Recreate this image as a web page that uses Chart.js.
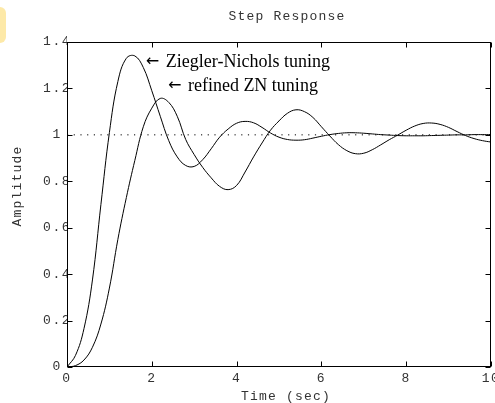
<!DOCTYPE html>
<html>
<head>
<meta charset="utf-8">
<script src="https://cdn.jsdelivr.net/npm/chart.js@4/dist/chart.umd.min.js"></script>
<style>
  body { margin: 0; background: #fff; }
  #wrap { position: relative; width: 495px; height: 403px; }
  #tab { position: absolute; left: 0; top: 7px; width: 6px; height: 36px; background: #fde9a8; border-radius: 0 6px 6px 0; }
</style>
</head>
<body>
<div id="wrap">
  <canvas id="myChart" width="495" height="403"></canvas>
  <div id="tab"></div>
</div>
<script>
// time axis (sec)
const times = [0, 0.2, 0.4, 0.6, 0.8, 1, 1.2, 1.4, 1.6, 1.8,
  2, 2.2, 2.4, 2.6, 2.8, 3, 3.2, 3.4, 3.6, 3.8,
  4, 4.2, 4.4, 4.6, 4.8, 5, 5.2, 5.4, 5.6, 5.8,
  6, 6.2, 6.4, 6.6, 6.8, 7, 7.2, 7.4, 7.6, 7.8,
  8, 8.2, 8.4, 8.6, 8.8, 9, 9.2, 9.4, 9.6, 9.8, 10];

// Ziegler-Nichols tuning
const znValues = [0, 0.05, 0.165, 0.375, 0.70, 1.01, 1.23, 1.33, 1.34, 1.29,
  1.19, 1.08, 0.975, 0.905, 0.868, 0.864, 0.893, 0.94, 0.99, 1.025,
  1.05, 1.058, 1.052, 1.032, 1.008, 0.99, 0.98, 0.977, 0.979, 0.986,
  0.994, 1.001, 1.006, 1.009, 1.009, 1.007, 1.004, 1.001, 0.999, 0.997,
  0.996, 0.996, 0.996, 0.997, 0.998, 0.999, 1.0, 1.0, 1.001, 1.001, 1.001];

// refined ZN tuning
const refinedValues = [0, 0.006, 0.03, 0.085, 0.185, 0.34, 0.55, 0.73, 0.89, 1.035,
  1.115, 1.157, 1.14, 1.08, 0.98, 0.915, 0.86, 0.815, 0.778, 0.764,
  0.782, 0.84, 0.905, 0.965, 1.02, 1.06, 1.093, 1.108, 1.10, 1.075,
  1.035, 0.995, 0.958, 0.932, 0.919, 0.921, 0.936, 0.957, 0.979, 0.999,
  1.02, 1.038, 1.049, 1.051, 1.045, 1.032, 1.014, 0.997, 0.984, 0.975, 0.969];

// reference level
const refTimes = [0, 10];
const refValues = [1, 1];

const xTicks = [0, 2, 4, 6, 8, 10];
const yTicks = [0, 0.2, 0.4, 0.6, 0.8, 1, 1.2, 1.4];

const toPoints = (xs, ys) => xs.map((t, i) => ({ x: t, y: ys[i] }));

const mono = '"Liberation Mono", "DejaVu Sans Mono", monospace';
const serif = '"Liberation Serif", "Times New Roman", serif';

// box, inside ticks and texts (MATLAB look)
const boxPlugin = {
  id: 'box',
  beforeDraw(chart) {
    chart.ctx.letterSpacing = '1.5px';
  },
  afterDraw(chart) {
    const { ctx, chartArea: a, scales: { x, y } } = chart;
    ctx.save();
    ctx.letterSpacing = '0px';
    ctx.strokeStyle = '#000';
    ctx.lineWidth = 1;
    const l = Math.round(a.left) + 0.5, r = Math.round(a.right) - 0.5;
    const t = Math.round(a.top) + 0.5, b = Math.round(a.bottom) - 0.5;
    ctx.strokeRect(l, t, r - l, b - t);

    ctx.beginPath();
    xTicks.forEach(v => {
      const px = Math.round(x.getPixelForValue(v)) + 0.5;
      ctx.moveTo(px, b); ctx.lineTo(px, b - 5);
      ctx.moveTo(px, t); ctx.lineTo(px, t + 5);
    });
    yTicks.forEach(v => {
      const py = Math.round(y.getPixelForValue(v)) + 0.5;
      ctx.moveTo(l, py); ctx.lineTo(l + 5, py);
      ctx.moveTo(r, py); ctx.lineTo(r - 5, py);
    });
    ctx.stroke();

    // title and axis titles
    ctx.letterSpacing = '1.2px';
    ctx.fillStyle = '#333';
    ctx.font = '13px ' + mono;
    ctx.textAlign = 'center';
    ctx.textBaseline = 'middle';
    ctx.fillText('Step Response', 287, 17);
    ctx.fillText('Time (sec)', 286, 397);
    ctx.save();
    ctx.translate(18, 186);
    ctx.rotate(-Math.PI / 2);
    ctx.fillText('Amplitude', 0, 0);
    ctx.restore();

    // curve annotations: arrow + label
    ctx.letterSpacing = '0px';
    ctx.fillStyle = '#000';
    ctx.textAlign = 'left';
    ctx.textBaseline = 'alphabetic';
    const note = (text, tx, ty) => {
      const px = x.getPixelForValue(tx), py = y.getPixelForValue(ty);
      ctx.font = '16px "DejaVu Sans", sans-serif';
      ctx.fillText('\u2190', px, py - 1);
      ctx.font = '18px ' + serif;
      ctx.fillText(text, px + 20, py);
    };
    note('Ziegler-Nichols tuning', 1.86, 1.293);
    note('refined ZN tuning', 2.38, 1.189);
    ctx.restore();
  }
};

const lineStyle = {
  borderColor: '#000',
  borderWidth: 1,
  pointRadius: 0,
  fill: false,
  tension: 0.4
};

new Chart(document.getElementById('myChart'), {
  type: 'line',
  data: {
    datasets: [
      { label: 'Ziegler-Nichols tuning', data: toPoints(times, znValues), ...lineStyle },
      { label: 'refined ZN tuning', data: toPoints(times, refinedValues), ...lineStyle },
      {
        label: 'reference',
        data: toPoints(refTimes, refValues),
        borderColor: '#000',
        borderWidth: 1,
        borderDash: [1.2, 5.5],
        pointRadius: 0,
        fill: false
      }
    ]
  },
  options: {
    responsive: false,
    animation: false,
    layout: { padding: { top: 42, right: 4, left: 0, bottom: 0 } },
    plugins: {
      legend: { display: false },
      tooltip: { enabled: false }
    },
    scales: {
      x: {
        type: 'linear',
        min: 0,
        max: 10,
        grid: { display: false, drawTicks: false },
        border: { display: false },
        ticks: {
          stepSize: 2,
          autoSkip: false,
          maxRotation: 0,
          padding: 4,
          color: '#333',
          font: { family: mono, size: 13 }
        },
        afterFit: scale => {
          scale.height = 36;
          scale.paddingLeft = 0;
          scale.paddingRight = 0;
        }
      },
      y: {
        min: 0,
        max: 1.4,
        grid: { display: false, drawTicks: false },
        border: { display: false },
        ticks: {
          stepSize: 0.2,
          padding: -4,
          color: '#333',
          font: { family: mono, size: 13 },
          callback: v => (Math.abs(v - Math.round(v)) < 1e-6 ? Math.round(v) + ' ' : v.toFixed(1))
        },
        afterFit: scale => {
          scale.width = 67;
          scale.paddingTop = 0;
          scale.paddingBottom = 0;
        }
      }
    }
  },
  plugins: [boxPlugin]
});
</script>
</body>
</html>
